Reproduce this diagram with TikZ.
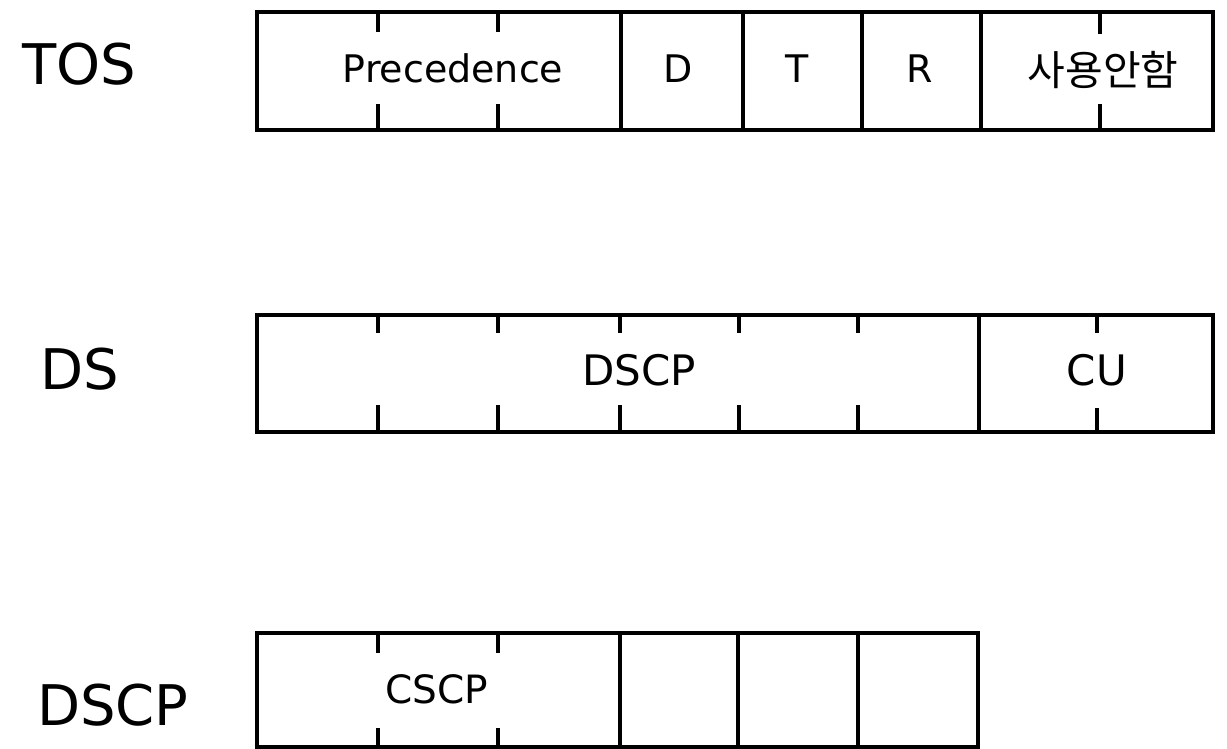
\documentclass[tikz,border=0pt]{standalone}
\usepackage{fontspec}
\setmainfont{DejaVu Sans}
\newfontfamily\krfont{Noto Sans CJK KR}
\begin{document}
\begin{tikzpicture}[x=1pt,y=-1pt,
  cell/.style={draw,line width=4pt,line join=miter,inner sep=0pt,outer sep=0pt,anchor=north west},
  tick/.style={line width=4pt},
  lbl/.style={inner sep=0pt,anchor=base west,font=\fontsize{56}{60}\selectfont},
  fld/.style={inner sep=0pt,anchor=base,font=\fontsize{38}{44}\selectfont},
  fldb/.style={inner sep=0pt,anchor=base,font=\fontsize{42}{48}\selectfont},
  kr/.style={inner sep=0pt,anchor=center,font=\krfont\fontsize{41}{46}\selectfont}]
\useasboundingbox (0,0) rectangle (1227,749);

% ---- TOS byte ----
\node[cell,minimum width=364pt,minimum height=118pt] (prec) at (257,12) {};
\node[cell,minimum width=122pt,minimum height=118pt] (dbit) at (621,12) {};
\node[cell,minimum width=119pt,minimum height=118pt] (tbit) at (743,12) {};
\node[cell,minimum width=119pt,minimum height=118pt] (rbit) at (862,12) {};
\node[cell,minimum width=232pt,minimum height=118pt] (unused) at (981,12) {};
\foreach \x in {378,498} {
  \draw[tick] (\x,12) -- (\x,32);
  \draw[tick] (\x,104) -- (\x,130);
}
\draw[tick] (1100,12) -- (1100,34);
\draw[tick] (1100,104) -- (1100,130);

\node[lbl] (tos) at (22,85) {TOS};
\node[fld] (tprec) at (453,83) {Precedence};
\node[fld] (td) at (678,83) {D};
\node[fld] (tt) at (797,83) {T};
\node[fld] (tr) at (920,83) {R};
\node[kr] (tu) at (1103,70) {사용안함};

% ---- DS field ----
\node[cell,minimum width=722pt,minimum height=117pt] (dscp) at (257,315) {};
\node[cell,minimum width=234pt,minimum height=117pt] (cu) at (979,315) {};
\foreach \x in {378,498,620,739,858} {
  \draw[tick] (\x,315) -- (\x,333);
  \draw[tick] (\x,405) -- (\x,432);
}
\draw[tick] (1097,315) -- (1097,333);
\draw[tick] (1097,408) -- (1097,432);

\node[lbl] (ds) at (40,389) {DS};
\node[fldb] (tdscp) at (639,385) {DSCP};
\node[fldb] (tcu) at (1097,385) {CU};

% ---- DSCP field ----
\node[cell,minimum width=363pt,minimum height=114pt] (cscp) at (257,633) {};
\node[cell,minimum width=118pt,minimum height=114pt] (b3) at (620,633) {};
\node[cell,minimum width=120pt,minimum height=114pt] (b4) at (738,633) {};
\node[cell,minimum width=120pt,minimum height=114pt] (b5) at (858,633) {};
\foreach \x in {378,498} {
  \draw[tick] (\x,633) -- (\x,653);
  \draw[tick] (\x,728) -- (\x,747);
}

\node[lbl] (dscplbl) at (37,725) {DSCP};
\node[fld,font=\fontsize{39}{44}\selectfont] (tcscp) at (437,703) {CSCP};
\end{tikzpicture}
\end{document}
